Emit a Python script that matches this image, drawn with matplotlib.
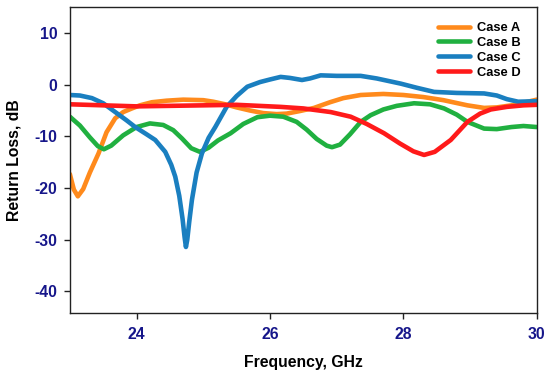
import matplotlib
matplotlib.use("Agg")
import matplotlib.pyplot as plt

plt.rcParams['font.family'] = ['Liberation Sans', 'DejaVu Sans']
plt.rcParams['axes.unicode_minus'] = False

# ---- data ----
xa = [23.0, 23.06, 23.12, 23.2, 23.3, 23.43, 23.55, 23.68, 23.8, 23.93, 24.05, 24.23, 24.45,
      24.7, 25.0, 25.15, 25.33, 25.5, 25.7, 25.9, 26.1, 26.25, 26.45, 26.66, 26.9, 27.1, 27.36,
      27.7, 28.0, 28.3, 28.6, 28.96, 29.21, 29.4, 29.62, 29.8, 30.0]
ya = [-17.3, -20.3, -21.6, -20.2, -17.0, -13.3, -9.2, -6.5, -5.3, -4.6, -4.0, -3.4, -3.1,
      -2.9, -3.0, -3.3, -3.8, -4.4, -5.0, -5.5, -5.7, -5.6, -5.1, -4.5, -3.4, -2.6, -2.0,
      -1.8, -2.0, -2.4, -3.0, -4.0, -4.5, -4.4, -4.0, -3.5, -2.9]

xb = [23.0, 23.15, 23.3, 23.42, 23.51, 23.62, 23.8, 24.0, 24.2, 24.4, 24.55, 24.68, 24.82,
      24.95, 25.08, 25.22, 25.41, 25.6, 25.81, 26.0, 26.2, 26.4, 26.55, 26.7, 26.85, 26.93,
      27.05, 27.2, 27.36, 27.51, 27.7, 27.9, 28.16, 28.4, 28.61, 28.8, 28.96, 29.21, 29.4,
      29.62, 29.8, 30.0]
yb = [-6.2, -7.9, -10.2, -11.9, -12.5, -11.8, -9.8, -8.2, -7.5, -7.8, -8.8, -10.4, -12.3,
      -13.0, -12.2, -10.8, -9.4, -7.6, -6.3, -6.0, -6.2, -7.2, -8.7, -10.5, -11.8, -12.1,
      -11.6, -9.6, -7.2, -5.9, -4.8, -4.1, -3.6, -3.8, -4.6, -5.8, -7.2, -8.5, -8.6, -8.2,
      -8.0, -8.2]

xc = [23.0, 23.15, 23.33, 23.5, 23.68, 23.85, 23.98, 24.15, 24.28, 24.43, 24.52, 24.58,
      24.64, 24.69, 24.72, 24.74, 24.76, 24.79, 24.83, 24.9, 24.98, 25.08, 25.18, 25.35,
      25.5, 25.66, 25.85, 26.0, 26.16, 26.3, 26.48, 26.6, 26.76, 27.0, 27.36, 27.6, 27.96,
      28.2, 28.46, 28.8, 29.21, 29.4, 29.55, 29.72, 30.0]
yc = [-2.0, -2.1, -2.6, -3.6, -5.3, -6.9, -8.2, -9.6, -10.7, -13.0, -15.5, -17.8, -21.5,
      -26.0, -29.5, -31.4, -30.0, -26.5, -22.3, -17.0, -13.3, -10.3, -8.2, -4.3, -2.2, -0.4,
      0.5, 1.0, 1.5, 1.3, 0.9, 1.2, 1.8, 1.7, 1.7, 1.2, 0.2, -0.6, -1.4, -1.6, -1.7, -2.1,
      -2.8, -3.3, -3.2]

xd = [23.0, 23.5, 24.0, 24.5, 25.0, 25.5, 26.16, 26.5, 26.91, 27.21, 27.45, 27.71, 27.95,
      28.15, 28.31, 28.47, 28.71, 28.96, 29.15, 29.31, 29.55, 29.8, 30.0]
yd = [-3.8, -4.0, -4.2, -4.1, -4.0, -3.9, -4.3, -4.6, -5.3, -6.2, -7.6, -9.4, -11.4,
      -12.9, -13.6, -13.0, -10.7, -7.2, -5.6, -4.8, -4.3, -4.0, -3.9]

labels = ["Case A", "Case B", "Case C", "Case D"]
colors = ["#ff8a1c", "#20b040", "#1a7fc0", "#ff1a1a"]
x_ticks = [24, 26, 28, 30]
y_ticks = [-40, -30, -20, -10, 0, 10]

fig = plt.figure(figsize=(5.5, 3.75), dpi=100)
ax = fig.add_axes([0.127, 0.165, 0.849, 0.816])

for x, y, lab, c in zip([xa, xb, xc, xd], [ya, yb, yc, yd], labels, colors):
    ax.plot(x, y, color=c, lw=3.3, label=lab, solid_joinstyle='round', solid_capstyle='round')

ax.set_xlim(23, 30)
ax.set_ylim(-44.2, 15)
ax.set_xticks(x_ticks)
ax.set_yticks(y_ticks)
tick_color = "#16168a"
ax.tick_params(axis='both', direction='out', length=4, width=1, colors='#222222',
               labelcolor=tick_color, labelsize=11.3)
for lab in ax.get_xticklabels() + ax.get_yticklabels():
    lab.set_fontweight('bold')
ax.tick_params(axis='x', pad=6)
ax.tick_params(axis='y', pad=5)

for s in ax.spines.values():
    s.set_linewidth(1.0)
    s.set_color('#222222')

ax.set_xlabel("Frequency, GHz", fontsize=11.3, fontweight='bold', labelpad=9)
ax.set_ylabel("Return Loss, dB", fontsize=11.3, fontweight='bold', labelpad=9)

leg = ax.legend(loc='upper left', bbox_to_anchor=(438 / 550, 1 - 22 / 375),
                bbox_transform=fig.transFigure, frameon=False,
                prop={'size': 9.3, 'weight': 'bold'}, handlelength=2.45, handletextpad=0.55,
                labelspacing=0.22, borderpad=0, borderaxespad=0)

fig.savefig("out.png", dpi=100)
